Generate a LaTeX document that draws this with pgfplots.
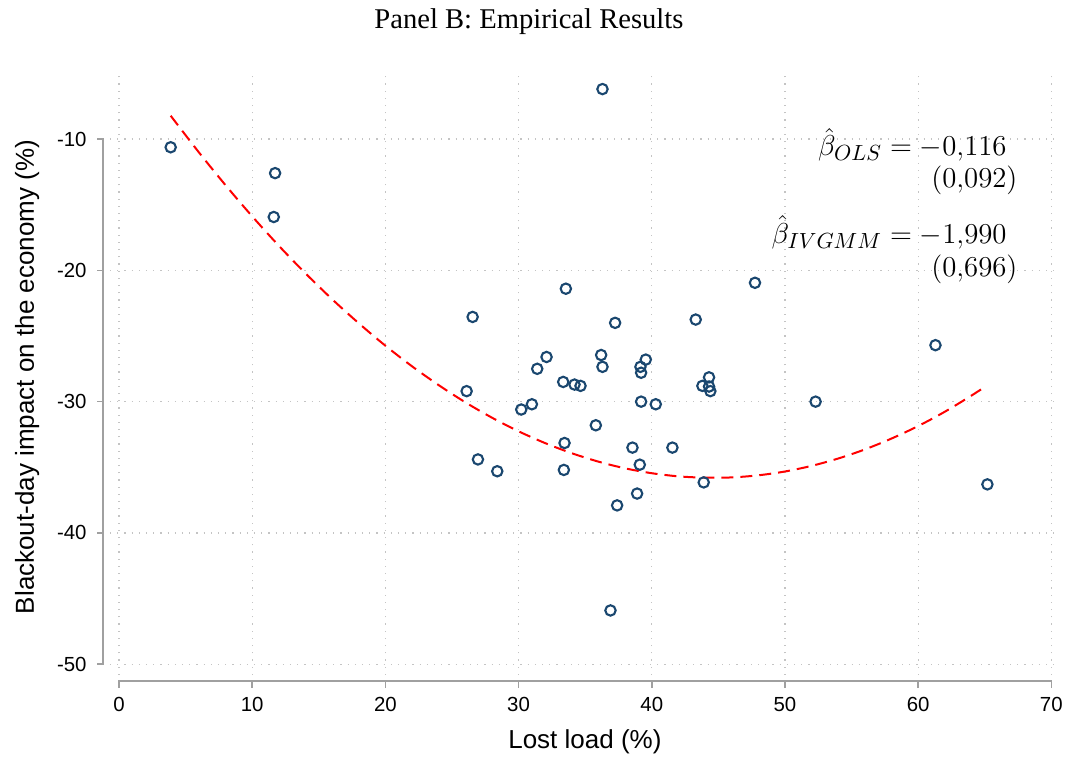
\documentclass[border=0pt]{standalone}
\usepackage{pgfplots}
\pgfplotsset{compat=1.18}
\usepackage{fontspec}
\setmainfont{Liberation Sans}
\newfontfamily\serifont{Liberation Serif}
\definecolor{statanavy}{HTML}{1A476F}
\definecolor{axgray}{HTML}{A0A0A0}
\definecolor{gridgray}{HTML}{C4C4C4}
\pgfplotstableread{
x y
3.88 -10.63
11.72 -12.6
11.62 -15.94
36.3 -6.2
47.75 -20.95
33.55 -21.4
26.55 -23.55
37.25 -24.0
43.3 -23.75
26.1 -29.2
26.95 -34.4
28.4 -35.3
30.2 -30.6
31.0 -30.2
31.4 -27.5
32.1 -26.6
33.35 -28.5
34.2 -28.7
34.65 -28.8
33.45 -33.15
33.4 -35.2
35.8 -31.8
36.2 -26.45
36.3 -27.35
36.9 -45.9
37.4 -37.9
38.55 -33.5
38.9 -37.0
39.1 -34.8
39.15 -27.35
39.2 -27.8
39.55 -26.8
39.2 -30.0
40.3 -30.2
41.55 -33.5
43.8 -28.8
44.3 -28.15
44.3 -28.85
44.4 -29.2
43.9 -36.15
52.3 -30.0
61.3 -25.7
65.2 -36.3
}\scatterdata
\pgfplotstableread{
x y
3.88 -8.23
6 -11.02
8 -13.52
10 -15.89
12 -18.13
14 -20.23
16 -22.20
18 -24.03
20 -25.74
22 -27.31
24 -28.74
26 -30.05
28 -31.22
30 -32.26
32 -33.16
34 -33.93
36 -34.57
38 -35.08
40 -35.45
42 -35.69
44 -35.79
46 -35.77
48 -35.61
50 -35.32
52 -34.89
54 -34.33
56 -33.64
58 -32.81
60 -31.86
62 -30.77
64 -29.54
65.1 -28.81
}\fitdata
\begin{document}
\begin{tikzpicture}
\useasboundingbox (-55pt,-41.5pt) rectangle (478.5pt,337.5pt);
\begin{axis}[
  scale only axis, width=475pt, height=300pt,
  at={(0,0)}, anchor=south west,
  xmin=-0.676, xmax=70.65, ymin=-50.815, ymax=-5.126,
  axis line style={draw=none},
  clip=false,
  xtick={0,10,20,30,40,50,60,70},
  xticklabels={0,10,20,30,40,50,60,70},
  ytick={-50,-40,-30,-20,-10},
  yticklabels={-50,-40,-30,-20,-10},
  major tick length=0pt,
  tick style={draw=none},
  grid=major,
  major grid style={gridgray, line width=0.6pt, dash pattern=on 0.6pt off 3pt},
  tick label style={font=\fontsize{10.2}{12}\selectfont},
  yticklabel style={xshift=-8.2pt},
  xticklabel style={yshift=-7.6pt},
]
% axis lines (Stata style, detached)
\draw[axgray, line width=0.8pt] (axis cs:-1.65,-10) -- (axis cs:-1.2,-10) -- (axis cs:-1.2,-50) -- (axis cs:-1.65,-50);
\draw[axgray, line width=0.8pt] (axis cs:-1.65,-20) -- (axis cs:-1.2,-20);
\draw[axgray, line width=0.8pt] (axis cs:-1.65,-30) -- (axis cs:-1.2,-30);
\draw[axgray, line width=0.8pt] (axis cs:-1.65,-40) -- (axis cs:-1.2,-40);
\draw[axgray, line width=0.8pt] (axis cs:0,-51.81) -- (axis cs:0,-51.27) -- (axis cs:70,-51.27) -- (axis cs:70,-51.81);
\draw[axgray, line width=0.8pt] (axis cs:10,-51.81) -- (axis cs:10,-51.27);
\draw[axgray, line width=0.8pt] (axis cs:20,-51.81) -- (axis cs:20,-51.27);
\draw[axgray, line width=0.8pt] (axis cs:30,-51.81) -- (axis cs:30,-51.27);
\draw[axgray, line width=0.8pt] (axis cs:40,-51.81) -- (axis cs:40,-51.27);
\draw[axgray, line width=0.8pt] (axis cs:50,-51.81) -- (axis cs:50,-51.27);
\draw[axgray, line width=0.8pt] (axis cs:60,-51.81) -- (axis cs:60,-51.27);

\addplot[only marks, mark=o, mark size=2.6pt, mark options={draw=statanavy, line width=1.05pt}] table[x=x,y=y] {\scatterdata};
\addplot[red, line width=1pt, dash pattern=on 6pt off 3.5pt, smooth] table[x=x,y=y] {\fitdata};

\node[anchor=base east, inner sep=0pt, font=\fontsize{15.3}{18}\selectfont] at (axis cs:66.67,-11.27) {$\hat{\beta}_{OLS} = -0{,}116$};
\node[anchor=base east, inner sep=0pt, font=\fontsize{15.3}{18}\selectfont] at (axis cs:67.49,-13.68) {$(0{,}092)$};
\node[anchor=base east, inner sep=0pt, font=\fontsize{15.3}{18}\selectfont] at (axis cs:66.67,-17.94) {$\hat{\beta}_{IVGMM} = -1{,}990$};
\node[anchor=base east, inner sep=0pt, font=\fontsize{15.3}{18}\selectfont] at (axis cs:67.49,-20.49) {$(0{,}696)$};

\node[font=\fontsize{13}{15}\selectfont] at (axis cs:34.98,-55.92) {Lost load (\%)};
\node[rotate=90, font=\fontsize{13}{15}\selectfont] at (axis cs:-6.9,-28.13) {Blackout-day impact on the economy (\%)};
\node[font=\serifont\fontsize{14.3}{17}\selectfont] at (axis cs:30.78,-1.09) {Panel B: Empirical Results};
\end{axis}
\end{tikzpicture}
\end{document}
